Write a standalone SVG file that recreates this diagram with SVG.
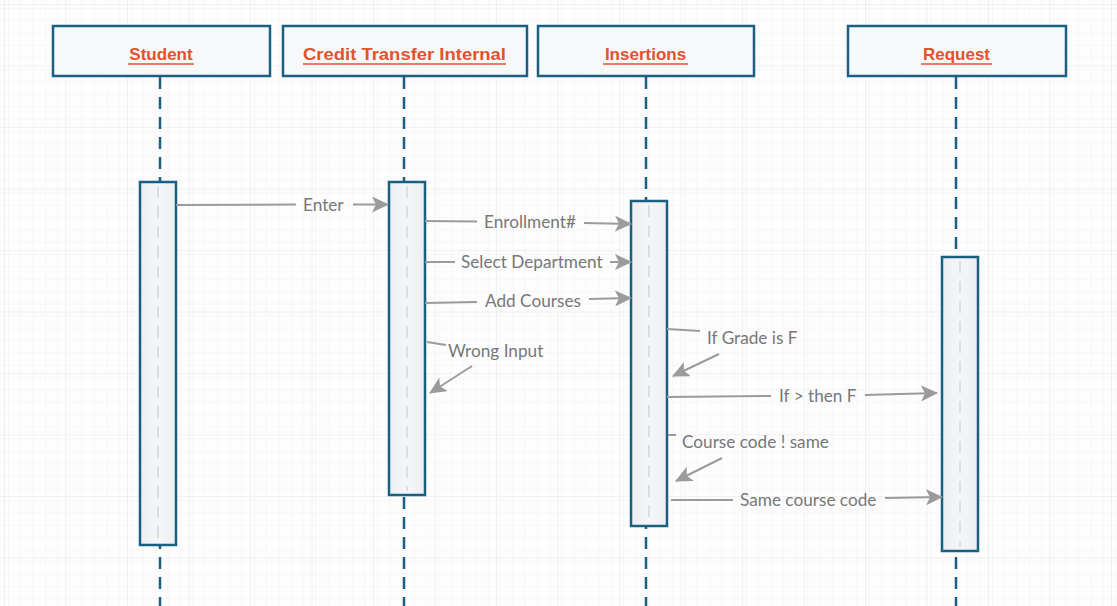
<svg xmlns="http://www.w3.org/2000/svg" width="1117" height="606" viewBox="0 0 1117 606">
  <defs>
    <pattern id="grid-minor" width="12.3" height="12.3" patternUnits="userSpaceOnUse" x="4" y="4">
      <path d="M 12.3 0 L 0 0 0 12.3" fill="none" stroke="#efefef" stroke-width="1"/>
    </pattern>
    <pattern id="grid-major" width="61.5" height="61.5" patternUnits="userSpaceOnUse" x="4" y="4">
      <rect width="61.5" height="61.5" fill="url(#grid-minor)"/>
      <path d="M 61.5 0 L 0 0 0 61.5" fill="none" stroke="#e6e6e6" stroke-width="1"/>
    </pattern>
    <linearGradient id="act-fill" x1="0" y1="0" x2="1" y2="0">
      <stop offset="0" stop-color="#eceeef"/>
      <stop offset="0.5" stop-color="#f5f6f7"/>
      <stop offset="1" stop-color="#eceeef"/>
    </linearGradient>
    <marker id="arrow" viewBox="0 0 17 16" refX="16" refY="8" markerWidth="17" markerHeight="16" markerUnits="userSpaceOnUse" orient="auto">
      <path d="M0,0 L17,8 L0,16 L4,8 Z" fill="#9b9b9b"/>
    </marker>
    <style>
      .head { fill: #f7f8f9; stroke: #1b5f82; stroke-width: 2.5; }
      .head-label { font-family: "Liberation Sans", Arial, sans-serif; font-weight: bold; font-size: 17px; fill: #e0532c; text-anchor: middle; }
      .underline { stroke: #e0532c; stroke-width: 1.5; }
      .lifeline { stroke: #1b5f82; stroke-width: 2.5; stroke-dasharray: 12 8; fill: none; }
      .act { fill: url(#act-fill); stroke: #1b5f82; stroke-width: 2.5; }
      .act-axis { stroke: #d4d8db; stroke-width: 1.5; stroke-dasharray: 12 8; }
      .msg { stroke: #9b9b9b; stroke-width: 2; fill: none; }
      .msg-end { stroke: #9b9b9b; stroke-width: 2; fill: none; marker-end: url(#arrow); }
      .msg-label { font-family: Lato, "Open Sans", sans-serif; font-size: 17.2px; fill: #777777; }
    </style>
  </defs>

  <!-- page background with grid -->
  <rect width="1117" height="606" fill="#fdfdfd"/>
  <rect width="1117" height="606" fill="url(#grid-major)"/>

  <!-- lifelines -->
  <g id="lifelines">
    <line class="lifeline" x1="160" y1="77" x2="160" y2="606"/>
    <line class="lifeline" x1="404" y1="77" x2="404" y2="606"/>
    <line class="lifeline" x1="646" y1="77" x2="646" y2="606"/>
    <line class="lifeline" x1="956" y1="77" x2="956" y2="606"/>
  </g>

  <!-- participant: Student -->
  <g id="student">
    <rect class="head" x="53" y="26" width="217" height="50"/>
    <text class="head-label" x="161" y="59.5">Student</text>
    <line class="underline" x1="128" y1="64" x2="194" y2="64"/>
    <rect class="act" x="140" y="182" width="36" height="363"/>
    <line class="act-axis" x1="158" y1="186" x2="158" y2="541"/>
  </g>

  <!-- participant: Credit Transfer Internal -->
  <g id="credit-transfer-internal">
    <rect class="head" x="283" y="26" width="244" height="50"/>
    <text class="head-label" x="404.5" y="59.5" textLength="203" lengthAdjust="spacingAndGlyphs">Credit Transfer Internal</text>
    <line class="underline" x1="303" y1="64" x2="506" y2="64"/>
    <rect class="act" x="389" y="182" width="36" height="313"/>
    <line class="act-axis" x1="407" y1="186" x2="407" y2="491"/>
  </g>

  <!-- participant: Insertions -->
  <g id="insertions">
    <rect class="head" x="538" y="26" width="216" height="50"/>
    <text class="head-label" x="645.5" y="59.5">Insertions</text>
    <line class="underline" x1="603" y1="64" x2="688" y2="64"/>
    <rect class="act" x="631" y="201" width="36" height="325"/>
    <line class="act-axis" x1="649" y1="205" x2="649" y2="522"/>
  </g>

  <!-- participant: Request -->
  <g id="request">
    <rect class="head" x="848" y="26" width="218" height="50"/>
    <text class="head-label" x="956.5" y="59.5">Request</text>
    <line class="underline" x1="921" y1="64" x2="992" y2="64"/>
    <rect class="act" x="942" y="257" width="36" height="294"/>
    <line class="act-axis" x1="960" y1="261" x2="960" y2="547"/>
  </g>

  <!-- messages -->
  <g id="connectors">
    <!-- Enter -->
    <line class="msg" x1="176" y1="205" x2="296" y2="204.5"/>
    <line class="msg-end" x1="353" y1="204.5" x2="388" y2="204.5"/>
    <!-- Enrollment# -->
    <line class="msg" x1="425" y1="221" x2="477" y2="221.5"/>
    <line class="msg-end" x1="584" y1="223" x2="631" y2="224"/>
    <!-- Select Department -->
    <line class="msg" x1="425" y1="262" x2="455" y2="262"/>
    <line class="msg-end" x1="610" y1="262" x2="631" y2="262"/>
    <!-- Add Courses -->
    <line class="msg" x1="425" y1="303" x2="477" y2="302"/>
    <line class="msg-end" x1="589" y1="299" x2="631" y2="298"/>
    <!-- Wrong Input (self) -->
    <line class="msg" x1="427" y1="342" x2="446" y2="345"/>
    <line class="msg-end" x1="472" y1="366" x2="430" y2="393"/>
    <!-- If Grade is F (self) -->
    <line class="msg" x1="667" y1="329" x2="700" y2="331"/>
    <line class="msg-end" x1="719" y1="354" x2="673" y2="376"/>
    <!-- If > then F -->
    <line class="msg" x1="667" y1="397" x2="771" y2="396"/>
    <line class="msg-end" x1="865" y1="395" x2="937" y2="393"/>
    <!-- Course code ! same (self) -->
    <line class="msg" x1="668" y1="435" x2="676" y2="435"/>
    <line class="msg-end" x1="722" y1="458" x2="676" y2="481"/>
    <!-- Same course code -->
    <line class="msg" x1="671" y1="500" x2="733" y2="500"/>
    <line class="msg-end" x1="885" y1="498" x2="942" y2="497"/>
  </g>

  <!-- message labels -->
  <g id="labels">
    <text class="msg-label" x="303" y="210.5">Enter</text>
    <text class="msg-label" x="484" y="228">Enrollment#</text>
    <text class="msg-label" x="461" y="268">Select Department</text>
    <text class="msg-label" x="485" y="307">Add Courses</text>
    <text class="msg-label" x="448" y="357">Wrong Input</text>
    <text class="msg-label" x="707" y="344">If Grade is F</text>
    <text class="msg-label" x="779" y="402">If &gt; then F</text>
    <text class="msg-label" x="682" y="448">Course code ! same</text>
    <text class="msg-label" x="740" y="506">Same course code</text>
  </g>
</svg>
